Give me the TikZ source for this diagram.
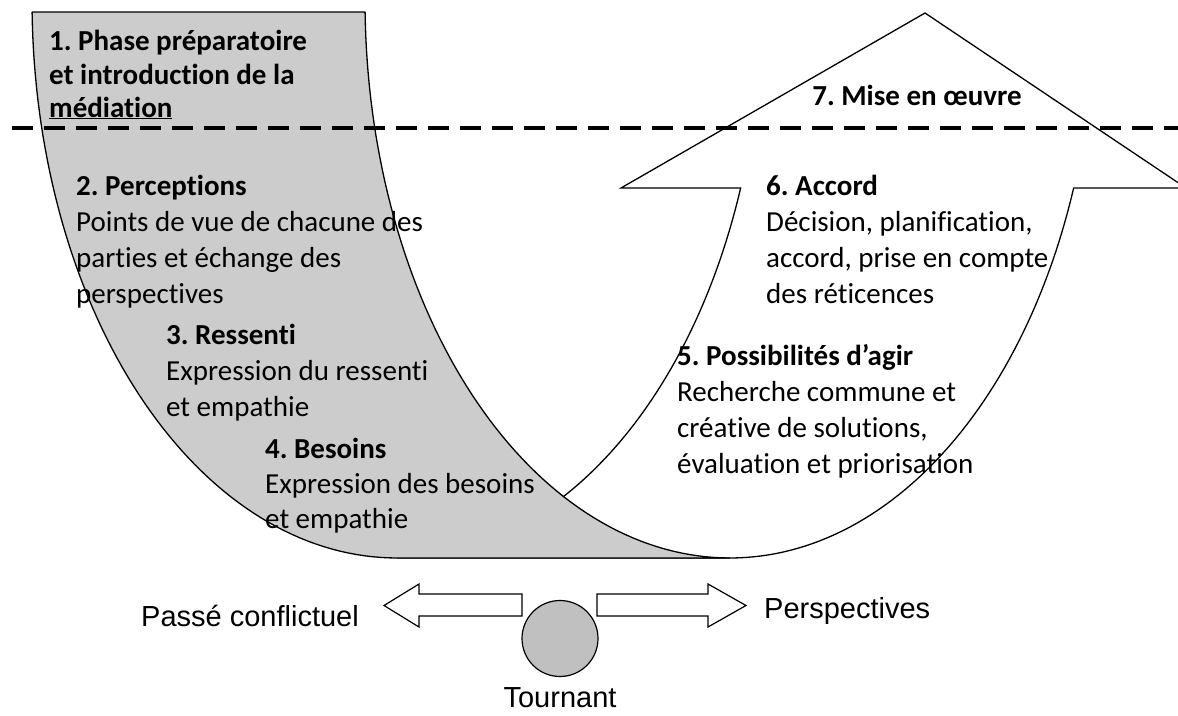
\documentclass[tikz,border=0pt]{standalone}
\usepackage{fontspec}
\setmainfont{Carlito}[Ligatures={NoCommon,NoRare}]
\newfontfamily\arialf{Liberation Sans}[Ligatures={NoCommon}]
\definecolor{grayfill}{HTML}{CCCCCC}
\definecolor{circfill}{HTML}{C0C0C0}
\frenchspacing
\begin{document}
\begin{tikzpicture}[x=1pt,y=-1pt,
  outline/.style={draw=black,line width=1.3pt,line join=miter},
  txt/.style={anchor=base west,inner sep=0pt,font=\fontsize{29}{35}\selectfont},
  hd/.style={anchor=base west,inner sep=0pt,font=\fontsize{29}{35}\selectfont\bfseries},
  lbl/.style={inner sep=0pt,font=\arialf\fontsize{29}{35}\selectfont},
  dashline/.style={line width=4.5pt,dash pattern=on 21pt off 11pt}]
\useasboundingbox (0,0) rectangle (1178,715);
\clip (0,0) rectangle (1178,715);

% white curved up arrow (behind)
\path[outline,fill=white] (397,558)
  -- plot[domain=90:19.69,samples=60] ({397+365*cos(\x)},{558*sin(\x)})
  -- (621,188) -- (925,13) -- (1186,188) -- (1073.7,188)
  -- plot[domain=19.69:90,samples=60] ({730+365*cos(\x)},{558*sin(\x)})
  -- cycle;

% gray band
\path[outline,fill=grayfill] (32.1,12) -- (365.1,12)
  -- plot[domain=178.77:90,samples=70] ({730+365*cos(\x)},{558*sin(\x)})
  -- (397,558)
  -- plot[domain=90:178.77,samples=70] ({397+365*cos(\x)},{558*sin(\x)})
  -- cycle;

% dashed separator
\coordinate (dl) at (12,128);
\coordinate (dr) at (1180,128);
\draw[dashline] (dl) -- (dr);

% texts
\node[hd] (t1a) at (49,50) {1. Phase préparatoire};
\node[hd] (t1b) at (49,84) {et introduction de la};
\node[hd] (t1c) at (49,117) {\underline{médiation}};

\node[hd]  (t2a) at (76,195) {2. Perceptions};
\node[txt] (t2b) at (76,231) {Points de vue de chacune des};
\node[txt] (t2c) at (76,267) {parties et échange des};
\node[txt] (t2d) at (76,303) {perspectives};

\node[hd]  (t3a) at (166,344) {3. Ressenti};
\node[txt] (t3b) at (166,380) {Expression du ressenti};
\node[txt] (t3c) at (166,416) {et empathie};

\node[hd]  (t4a) at (265,458) {4. Besoins};
\node[txt] (t4b) at (265,493) {Expression des besoins};
\node[txt] (t4c) at (265,528) {et empathie};

\node[hd]  (t5a) at (677,365) {5. Possibilités d’agir};
\node[txt] (t5b) at (677,401) {Recherche commune et};
\node[txt] (t5c) at (677,437) {créative de solutions,};
\node[txt] (t5d) at (677,473) {évaluation et priorisation};

\node[hd]  (t6a) at (766,195) {6. Accord};
\node[txt] (t6b) at (766,231) {Décision, planification,};
\node[txt] (t6c) at (766,267) {accord, prise en compte};
\node[txt] (t6d) at (766,303) {des réticences};

\node[hd,anchor=base] (t7) at (917,105) {7. Mise en œuvre};

% bottom: turning point
\path[outline,line width=1.2pt,fill=white] (522,594) -- (419,594) -- (419,584) -- (384,605.5)
  -- (419,627) -- (419,616) -- (522,616) -- cycle;
\path[outline,line width=1.2pt,fill=white] (597,594) -- (708,594) -- (708,584) -- (746,605.5)
  -- (708,627) -- (708,616) -- (597,616) -- cycle;
\node[draw=black,line width=1.2pt,fill=circfill,circle,minimum size=76pt,inner sep=0pt] (turn) at (560,638.5) {};

\node[lbl,anchor=base west] (past) at (141,626) {Passé conflictuel};
\node[lbl,anchor=base west] (persp) at (764,618) {Perspectives};
\node[lbl,anchor=base] (tourn) at (560,707) {Tournant};
\end{tikzpicture}
\end{document}
